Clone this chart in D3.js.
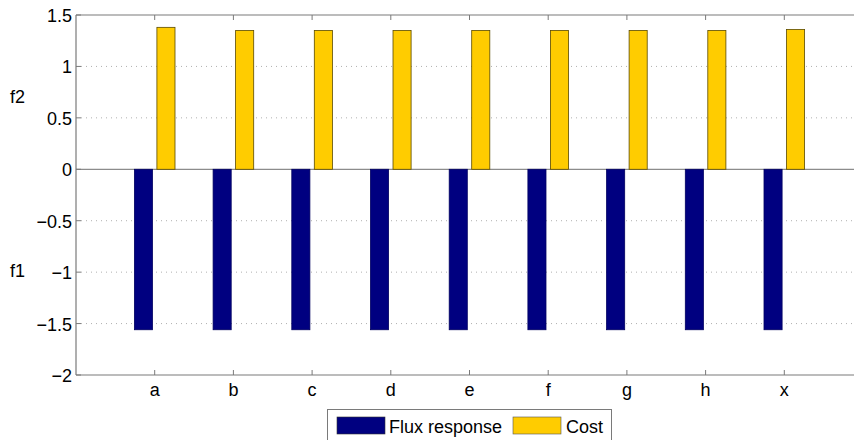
<!DOCTYPE html>
<html>
<head>
<meta charset="utf-8">
<script src="https://cdn.jsdelivr.net/npm/d3@7"></script>
<style>
  html, body { margin: 0; padding: 0; background: #fff; }
  svg { display: block; }
  text { font-family: "Liberation Sans", Arial, Helvetica, sans-serif; fill: #000; }
</style>
</head>
<body>
<svg id="chart" width="854" height="440"></svg>
<script>
// Categories along the x axis
const categories = ["a", "b", "c", "d", "e", "f", "g", "h", "x"];
// Series values
const fluxResponse = [-1.56, -1.56, -1.56, -1.56, -1.56, -1.56, -1.56, -1.56, -1.56];
const cost = [1.38, 1.35, 1.35, 1.35, 1.35, 1.35, 1.35, 1.35, 1.36];
// Axis tick values
const yTicks = [-2, -1.5, -1, -0.5, 0, 0.5, 1, 1.5];
const gridTicks = [-1.5, -1, -0.5, 0.5, 1];
const seriesNames = ["Flux response", "Cost"];
const seriesColors = ["#000080", "#ffcc00"];

const svg = d3.select("#chart");
const plotLeft = 76, plotTop = 15, plotBottom = 375;
const fontSize = 18;

// Numeric x scale: categories sit at 1..9 within a 0..10 axis range
const x = d3.scaleLinear().domain([0, 10]).range([plotLeft, 863]);
const y = d3.scaleLinear().domain([-2, 1.5]).range([plotBottom, plotTop]);

const barW = 0.23, offset = 0.143;

// dotted grid lines
svg.append("g").selectAll("line").data(gridTicks).join("line")
  .attr("x1", plotLeft + 5).attr("x2", 854)
  .attr("y1", d => y(d)).attr("y2", d => y(d))
  .attr("stroke", "#b0b0b0").attr("stroke-width", 1)
  .attr("stroke-dasharray", "1,4");

// zero baseline
svg.append("line")
  .attr("x1", plotLeft).attr("x2", 854)
  .attr("y1", y(0)).attr("y2", y(0))
  .attr("stroke", "#8c8c8c").attr("stroke-width", 1.2);

// bars
const series = [fluxResponse, cost];
series.forEach((vals, s) => {
  svg.append("g").selectAll("rect").data(vals).join("rect")
    .attr("x", (d, i) => x(i + 1 + (s === 0 ? -offset : offset) - barW / 2))
    .attr("width", x(barW) - x(0))
    .attr("y", d => y(Math.max(0, d)))
    .attr("height", d => Math.abs(y(d) - y(0)))
    .attr("fill", seriesColors[s])
    .attr("stroke", s === 0 ? "#000060" : "#5a4a00")
    .attr("stroke-width", 0.8);
});

// axes box (left, top, bottom)
const axisColor = "#7a7a7a";
svg.append("line").attr("x1", plotLeft).attr("x2", plotLeft).attr("y1", plotTop).attr("y2", plotBottom)
  .attr("stroke", axisColor).attr("stroke-width", 1.2);
svg.append("line").attr("x1", plotLeft).attr("x2", 854).attr("y1", plotTop).attr("y2", plotTop)
  .attr("stroke", axisColor).attr("stroke-width", 1.2);
svg.append("line").attr("x1", plotLeft).attr("x2", 854).attr("y1", plotBottom).attr("y2", plotBottom)
  .attr("stroke", axisColor).attr("stroke-width", 1.2);

// category ticks on top and bottom
categories.forEach((c, i) => {
  const cx = x(i + 1);
  svg.append("line").attr("x1", cx).attr("x2", cx).attr("y1", plotBottom).attr("y2", plotBottom - 5)
    .attr("stroke", axisColor).attr("stroke-width", 1);
  svg.append("line").attr("x1", cx).attr("x2", cx).attr("y1", plotTop).attr("y2", plotTop + 5)
    .attr("stroke", axisColor).attr("stroke-width", 1);
  svg.append("text").attr("x", cx).attr("y", 396)
    .attr("text-anchor", "middle").attr("font-size", fontSize).text(c);
});

// y ticks and labels
yTicks.forEach(t => {
  svg.append("line").attr("x1", plotLeft).attr("x2", plotLeft + 5).attr("y1", y(t)).attr("y2", y(t))
    .attr("stroke", axisColor).attr("stroke-width", 1);
  svg.append("text").attr("x", 72).attr("y", y(t) + 7)
    .attr("text-anchor", "end").attr("font-size", fontSize)
    .text(t < 0 ? "\u2212" + Math.abs(t) : String(t));
});

// axis labels
svg.append("text").attr("x", 10).attr("y", 103).attr("font-size", fontSize).text("f2");
svg.append("text").attr("x", 10).attr("y", 277).attr("font-size", fontSize).text("f1");

// legend
const lg = svg.append("g");
lg.append("rect").attr("x", 327.5).attr("y", 409.5).attr("width", 284).attr("height", 34)
  .attr("fill", "#fff").attr("stroke", "#7a7a7a").attr("stroke-width", 1);
lg.append("rect").attr("x", 337).attr("y", 417).attr("width", 48).attr("height", 17)
  .attr("fill", seriesColors[0]).attr("stroke", "#333").attr("stroke-width", 0.6);
lg.append("text").attr("x", 389).attr("y", 433).attr("font-size", fontSize).text(seriesNames[0]);
lg.append("rect").attr("x", 513).attr("y", 417).attr("width", 48).attr("height", 17)
  .attr("fill", seriesColors[1]).attr("stroke", "#555").attr("stroke-width", 0.6);
lg.append("text").attr("x", 566).attr("y", 433).attr("font-size", fontSize).text(seriesNames[1]);
</script>
</body>
</html>
